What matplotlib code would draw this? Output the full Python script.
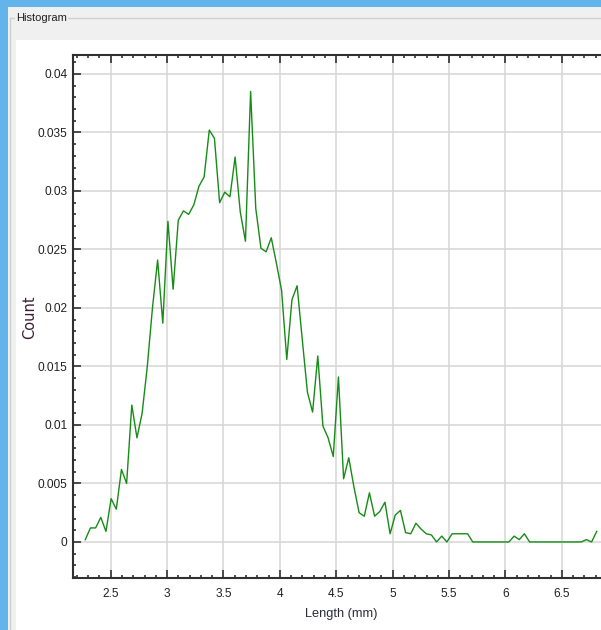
import numpy as np
import matplotlib
matplotlib.use("Agg")
import matplotlib.pyplot as plt
from matplotlib.patches import Rectangle
from matplotlib.lines import Line2D
from matplotlib.ticker import MultipleLocator, FuncFormatter

# histogram data
bin_start = 2.275
bin_width = 0.0458
counts = [
    0.0002, 0.0012, 0.0012, 0.0021, 0.0009, 0.0037, 0.0028, 0.0062, 0.0050, 0.0117,
    0.0089, 0.0110, 0.0150, 0.0200, 0.0241, 0.0187, 0.0274, 0.0216, 0.0275, 0.0283,
    0.0280, 0.0288, 0.0304, 0.0312, 0.0352, 0.0345, 0.0290, 0.0299, 0.0295, 0.0329,
    0.0282, 0.0257, 0.0385, 0.0285, 0.0251, 0.0248, 0.0260, 0.0238, 0.0215, 0.0156,
    0.0207, 0.0219, 0.0173, 0.0128, 0.0111, 0.0159, 0.0099, 0.0089, 0.0073, 0.0141,
    0.0054, 0.0072, 0.0047, 0.0025, 0.0022, 0.0042, 0.0022, 0.0026, 0.0034, 0.0007,
    0.0023, 0.0027, 0.0008, 0.0007, 0.0016, 0.0011, 0.0007, 0.0006, 0.0, 0.0005,
    0.0, 0.0007, 0.0007, 0.0007, 0.0007, 0.0, 0.0, 0.0, 0.0, 0.0,
    0.0, 0.0, 0.0, 0.0005, 0.0002, 0.0007, 0.0, 0.0, 0.0, 0.0,
    0.0, 0.0, 0.0, 0.0, 0.0, 0.0, 0.0, 0.0002, 0.0, 0.0009,
]
lengths = bin_start + bin_width * np.arange(len(counts))

W, H = 601, 630


def fx(px):
    return px / W


def fy(py):
    return 1 - py / H


fig = plt.figure(figsize=(W / 100, H / 100), dpi=100, facecolor="#62b4ea")

# window chrome: grey panel, group box, white plot panel
fig.add_artist(Rectangle((fx(8), 0), 1, fy(7), transform=fig.transFigure,
                         facecolor="#f0f0f0", edgecolor="none", zorder=-10))
fig.add_artist(Line2D([fx(10), 1], [fy(18), fy(18)], transform=fig.transFigure,
                      color="#d0d0d0", lw=1, zorder=-9))
fig.add_artist(Line2D([fx(10), fx(10)], [fy(18), 0], transform=fig.transFigure,
                      color="#d0d0d0", lw=1, zorder=-9))
fig.add_artist(Rectangle((fx(16), 0), 1, fy(40), transform=fig.transFigure,
                         facecolor="white", edgecolor="none", zorder=-8))
fig.text(fx(16), fy(18), "Histogram", family="Liberation Sans", fontsize=8,
         color="#202020", va="center", ha="left",
         bbox=dict(facecolor="#f0f0f0", edgecolor="none", pad=1))

ax = fig.add_axes([fx(73), 52 / H, (W - 73) / W, 523 / H])
ax.set_facecolor("white")

ax.plot(lengths, counts, color="#168c16", lw=1.0)

ax.set_xlim(2.166, 6.847)
ax.set_ylim(-0.00308, 0.04162)

ax.xaxis.set_major_locator(MultipleLocator(0.5))
ax.xaxis.set_minor_locator(MultipleLocator(0.1))
ax.yaxis.set_major_locator(MultipleLocator(0.005))
ax.yaxis.set_minor_locator(MultipleLocator(0.001))
ax.yaxis.set_major_formatter(FuncFormatter(lambda v, p: "%g" % round(v, 4)))
ax.xaxis.set_major_formatter(FuncFormatter(lambda v, p: "%g" % round(v, 2)))

ax.grid(True, which="major", color="#d6d6d6", lw=1.1)
ax.set_axisbelow(True)

for side in ["left", "bottom", "top"]:
    ax.spines[side].set_color("#303030")
    ax.spines[side].set_linewidth(1.5)
ax.spines["right"].set_visible(False)

ax.tick_params(which="both", direction="in", top=True, right=False,
               colors="#303030", labelcolor="#202020", width=1.2)
ax.tick_params(which="major", length=5.5, labelsize=8.6)
ax.tick_params(which="minor", length=2.5)
ax.tick_params(axis="x", which="major", pad=7.5)
ax.tick_params(axis="y", which="major", pad=4)
for lab in ax.get_xticklabels() + ax.get_yticklabels():
    lab.set_family("Liberation Sans")

fig.text(fx(341), fy(614), "Length (mm)", family="Liberation Sans", fontsize=9.2,
         color="#2a2a3a", ha="center", va="center")
fig.text(fx(30), fy(317), "Count", family="DejaVu Sans", fontsize=10.5,
         color="#3c1c30", ha="center", va="center", rotation=90)

fig.savefig("out.png", dpi=100, facecolor=fig.get_facecolor())
